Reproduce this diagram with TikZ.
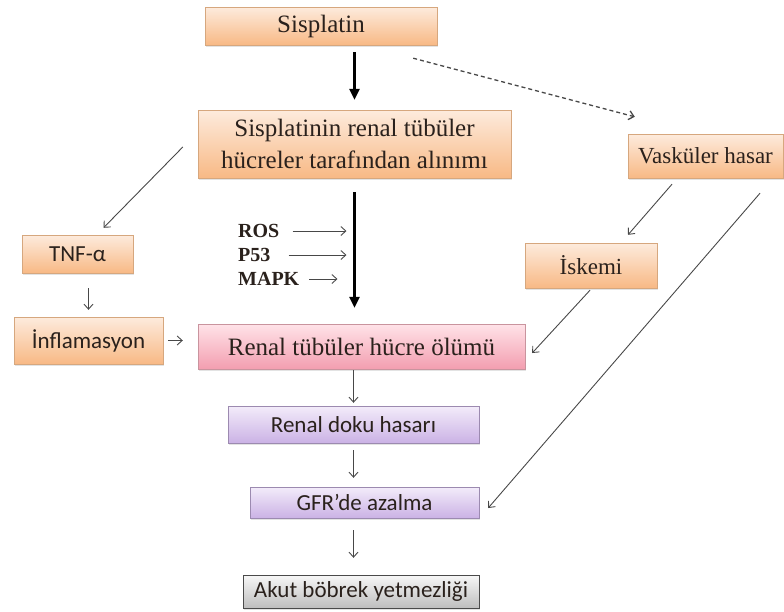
\documentclass[tikz,border=0pt]{standalone}
\usepackage{fontspec}
\setmainfont{Liberation Serif}
\newfontfamily\calibri{Carlito}
\usetikzlibrary{calc,shadows,arrows.meta}

\definecolor{peachtop}{HTML}{FDEBDD}
\definecolor{peachbot}{HTML}{F8B985}
\definecolor{peachline}{HTML}{D6A77E}
\definecolor{pinktop}{HTML}{FFE3E8}
\definecolor{pinkbot}{HTML}{F39EB0}
\definecolor{pinkline}{HTML}{C9949E}
\definecolor{lilactop}{HTML}{F3ECFA}
\definecolor{lilacbot}{HTML}{CBB2E5}
\definecolor{lilacline}{HTML}{9C8AB0}
\definecolor{greytop}{HTML}{F7F7F7}
\definecolor{greybot}{HTML}{BEBEBE}
\definecolor{greyline}{HTML}{4A4A4A}
\definecolor{inkcol}{HTML}{2A211C}
\definecolor{linkcol}{HTML}{484848}

\tikzset{
  flowbox/.style={rectangle, inner sep=0pt, align=center, text=inkcol,
    drop shadow={opacity=0.22, shadow xshift=1.2pt, shadow yshift=-1.6pt}},
  peachbox/.style={flowbox, draw=peachline, top color=peachtop, bottom color=peachbot},
  pinkbox/.style={flowbox, draw=pinkline, top color=pinktop, bottom color=pinkbot},
  lilacbox/.style={flowbox, draw=lilacline, top color=lilactop, bottom color=lilacbot},
  greybox/.style={flowbox, draw=greyline, top color=greytop, bottom color=greybot},
  seriftext/.style={font=\fontsize{25}{32}\selectfont},
  sanstext/.style={font=\calibri\fontsize{23}{28}\selectfont},
  factor/.style={anchor=west, inner sep=0pt, font=\bfseries\fontsize{20}{24}\selectfont, text=inkcol},
  thin link/.style={-{Straight Barb[length=5pt,width=9pt]}, draw=linkcol, line width=0.9pt},
  thick link/.style={-{Triangle[length=11pt,width=10pt]}, line width=2.6pt, draw=black},
}

\begin{document}
\begin{tikzpicture}[x=1pt,y=-1pt]
    \useasboundingbox (0,0) rectangle (784,611);

    % main column
    \node[peachbox, seriftext, minimum width=232pt, minimum height=38pt] (sis) at (321,26) {Sisplatin};
    \node[peachbox, seriftext, minimum width=313pt, minimum height=68pt] (uptake) at (354.5,144)
      {Sisplatinin renal tübüler\\hücreler tarafından alınımı};
    \node[pinkbox, seriftext, minimum width=327pt, minimum height=45pt] (death) at (361.5,346.5)
      {Renal tübüler hücre ölümü};
    \node[lilacbox, sanstext, minimum width=251pt, minimum height=37pt] (doku) at (353.5,424.5) {Renal doku hasarı};
    \node[lilacbox, sanstext, minimum width=229pt, minimum height=31pt] (gfr) at (364.5,502.5) {GFR’de azalma};
    \node[greybox, sanstext, minimum width=236pt, minimum height=33pt] (akut) at (361,591.5) {Akut böbrek yetmezliği};

    % left branch
    \node[peachbox, sanstext, minimum width=111pt, minimum height=38pt] (tnf) at (77.5,254) {TNF-α};
    \node[peachbox, sanstext, minimum width=149pt, minimum height=47pt] (infl) at (88.5,340.5) {İnflamasyon};

    % right branch
    \node[peachbox, font=\fontsize{23}{28}\selectfont, minimum width=155pt, minimum height=44pt] (vask) at (705.5,156) {Vasküler hasar};
    \node[peachbox, font=\fontsize{23}{28}\selectfont, minimum width=132pt, minimum height=45pt] (iskemi) at (591,265.5) {İskemi};

    % factors
    \node[factor] (ros) at (238,231) {ROS};
    \node[factor] (p53) at (238,255) {P53};
    \node[factor] (mapk) at (238,279) {MAPK};

    \draw[thick link, shorten <=7pt, shorten >=10pt] (uptake.north |- sis.south) -- (uptake.north);
    \draw[thick link, shorten <=14pt, shorten >=16pt] (uptake.south) -- (uptake.south |- death.north);
    \draw[-{Straight Barb[length=5pt,width=9pt]}, draw=linkcol, line width=1.3pt, dash pattern=on 4pt off 3pt]
      ($(sis.south east)+(-24,13)$) -- ($(vask.north west)+(7,-17)$);

    \draw[thin link, shorten <=13pt, shorten >=8pt] (ros.east) -- (ros.east -| uptake.south);
    \draw[thin link, shorten <=18pt, shorten >=8pt] (p53.east) -- (p53.east -| uptake.south);
    \draw[thin link, shorten <=10pt, shorten >=17pt] (mapk.east) -- (mapk.east -| uptake.south);

    \draw[thin link] ($(uptake.west)+(-15,3)$) -- ($(tnf.north)+(26,-7)$);
    \draw[thin link, shorten <=15pt, shorten >=7pt] (infl.north |- tnf.south) -- (infl.north);
    \draw[thin link, shorten <=5pt, shorten >=15pt] (infl.east) -- (infl.east -| death.west);

    \draw[thin link] ($(vask.south)+(-33.5,6)$) -- ($(iskemi.north)+(37,-8)$);
    \draw[thin link] ($(iskemi.south)+(-1,2)$) -- ($(death.east)+(7,6.5)$);
    \draw[thin link] ($(vask.south)+(54.5,15)$) -- ($(gfr.east)+(9,5.5)$);

    \draw[thin link, shorten <=1pt, shorten >=3pt] (doku.north |- death.south) -- (doku.north);
    \draw[thin link, shorten <=7pt, shorten >=9pt] (doku.south) -- (doku.south |- gfr.north);
    \draw[thin link, shorten <=12pt, shorten >=17pt] (doku.south |- gfr.south) -- (doku.south |- akut.north);
\end{tikzpicture}
\end{document}
